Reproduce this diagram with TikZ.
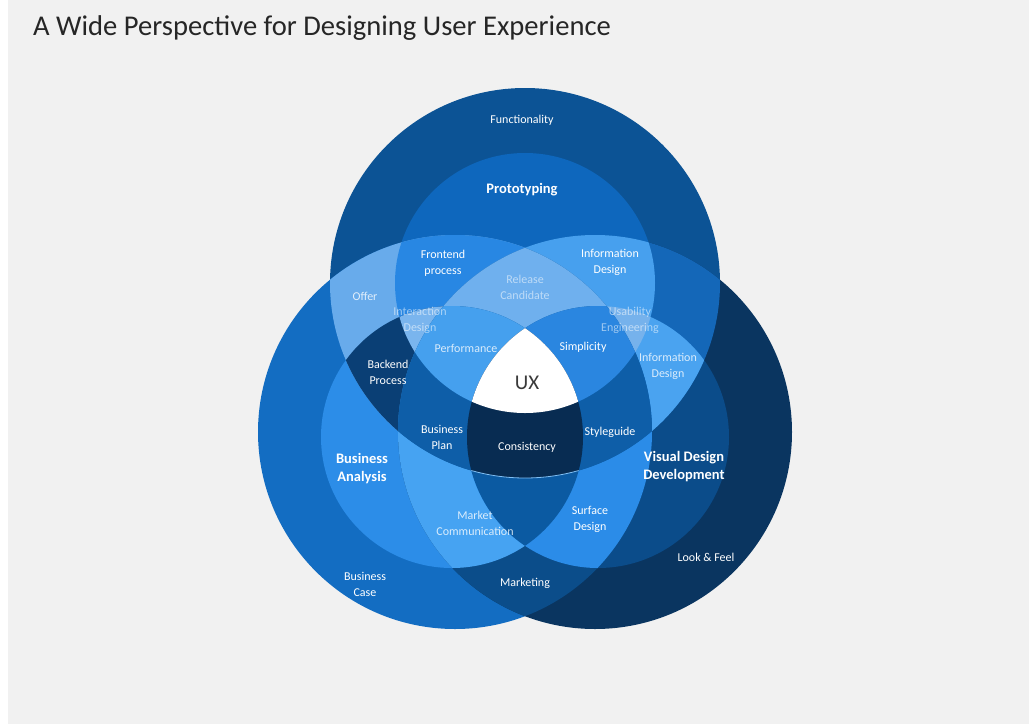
\documentclass[tikz,border=0pt]{standalone}
\usepackage{fontspec}
\setmainfont{Carlito}
\definecolor{bg}{HTML}{F1F1F1}
\definecolor{titlec}{HTML}{262626}
\definecolor{cT}{HTML}{0C5395}
\definecolor{cL}{HTML}{136DC2}
\definecolor{cR}{HTML}{0A3560}
\definecolor{cTP}{HTML}{0E67BD}
\definecolor{cLA}{HTML}{2C8DE8}
\definecolor{cRV}{HTML}{0B4C8A}
\definecolor{cTL}{HTML}{68ABEB}
\definecolor{cTR}{HTML}{1467B8}
\definecolor{cLR}{HTML}{0B4D8A}
\definecolor{cTPL}{HTML}{2887E3}
\definecolor{cTPR}{HTML}{47A0EE}
\definecolor{cTLA}{HTML}{0A3F75}
\definecolor{cTRV}{HTML}{4AA3F0}
\definecolor{cLAR}{HTML}{46A3F2}
\definecolor{cRVL}{HTML}{2B8CE8}
\definecolor{cTLR}{HTML}{0E5EA8}
\definecolor{cTPLA}{HTML}{7AB5EE}
\definecolor{cTPRV}{HTML}{76B2EC}
\definecolor{cTPLR}{HTML}{6FB0EE}
\definecolor{cTLAR}{HTML}{0E5EA8}
\definecolor{cTLRV}{HTML}{0E5EA8}
\definecolor{cLARV}{HTML}{0B5AA2}
\definecolor{cPerf}{HTML}{45A0EE}
\definecolor{cSimp}{HTML}{2A86E0}
\definecolor{cCons}{HTML}{082C52}
\definecolor{uxc}{HTML}{3A3A3A}
\def\cT{(525,283) circle[radius=195pt]}
\def\cP{(525,283) circle[radius=130pt]}
\def\cL{(455,432) circle[radius=197pt]}
\def\cA{(452,437) circle[radius=131pt]}
\def\cR{(595,432) circle[radius=197pt]}
\def\cV{(598,437) circle[radius=131pt]}
\newcommand{\rg}[3]{\begin{scope}#2\fill[#1] #3;\end{scope}}
\tikzset{
  lbl/.style={text=white, align=center, font=\fontsize{12}{16}\selectfont, inner sep=0pt},
  blbl/.style={text=white, align=center, font=\fontsize{14.5}{18}\selectfont\bfseries, inner sep=0pt},
  faint/.style={text opacity=0.55},
  soft/.style={text opacity=0.8}
}
\begin{document}
\begin{tikzpicture}[x=1pt,y=-1pt]
\useasboundingbox (0,0) rectangle (1029,724);
\fill[bg] (0,0) rectangle (1029,724);
\fill[white] (0,0) rectangle (8,724);
% size 1
\fill[cT] \cT; \fill[cL] \cL; \fill[cR] \cR;
% size 2
\fill[cTP] \cP; \fill[cLA] \cA; \fill[cRV] \cV;
\rg{cTL}{\clip\cT;}{\cL}
\rg{cTR}{\clip\cT;}{\cR}
\rg{cLR}{\clip\cL;}{\cR}
% size 3
\rg{cTPL}{\clip\cP;}{\cL}
\rg{cTPR}{\clip\cP;}{\cR}
\rg{cTLA}{\clip\cT;}{\cA}
\rg{cTRV}{\clip\cT;}{\cV}
\rg{cLAR}{\clip\cA;}{\cR}
\rg{cRVL}{\clip\cV;}{\cL}
\rg{cTLR}{\clip\cT;\clip\cL;}{\cR}
% size 4
\rg{cTPLA}{\clip\cP;}{\cA}
\rg{cTPRV}{\clip\cP;}{\cV}
\rg{cTPLR}{\clip\cP;\clip\cL;}{\cR}
\rg{cTLAR}{\clip\cT;\clip\cA;}{\cR}
\rg{cTLRV}{\clip\cT;\clip\cV;}{\cL}
\rg{cLARV}{\clip\cA;}{\cV}
% size 5
\rg{cPerf}{\clip\cP;\clip\cA;}{\cR}
\rg{cSimp}{\clip\cP;\clip\cV;}{\cL}
\rg{cCons}{\clip\cT;\clip\cA;}{\cV}
% size 6
\rg{white}{\clip\cP;\clip\cA;}{\cV}
\begin{scope}\clip\cA;\clip\cV;\draw[color=cTRV!70!white, line width=0.8pt] \cT;\end{scope}
% title
\node[anchor=base west, inner sep=0pt, text=titlec, font=\fontsize{28.6}{32}\selectfont] (title) at (33,35) {A Wide Perspective for Designing User Experience};
% labels
\node[lbl] (fun) at (522,120) {Functionality};
\node[blbl] (proto) at (522,190) {Prototyping};
\node[lbl] (front) at (443,263) {Frontend\\process};
\node[lbl] (info1) at (610,262) {Information\\Design};
\node[lbl, soft] (offer) at (365,296) {Offer};
\node[lbl, faint] (rel) at (525,287) {Release\\Candidate};
\node[lbl, faint] (inter) at (420,320) {Interaction\\Design};
\node[lbl, faint] (usab) at (630,320) {Usability\\Engineering};
\node[lbl, soft] (info2) at (668,366) {Information\\Design};
\node[lbl] (back) at (388,372) {Backend\\Process};
\node[lbl, soft] (perf) at (466,348) {Performance};
\node[lbl] (simp) at (583,347) {Simplicity};
\node[text=uxc, inner sep=0pt, font=\fontsize{21}{24}\selectfont] (ux) at (527,383) {UX};
\node[lbl] (bplan) at (442,437) {Business\\Plan};
\node[lbl] (cons) at (527,447) {Consistency};
\node[lbl] (style) at (610,432) {Styleguide};
\node[blbl] (ba) at (362,469) {Business\\Analysis};
\node[blbl] (vdd) at (684,467) {Visual Design\\Development};
\node[lbl, soft] (mc) at (475,523) {Market\\Communication};
\node[lbl] (sd) at (590,519) {Surface\\Design};
\node[lbl] (lf) at (706,557) {Look \& Feel};
\node[lbl] (bc) at (365,584) {Business\\Case};
\node[lbl] (mkt) at (525,583) {Marketing};
\end{tikzpicture}
\end{document}
